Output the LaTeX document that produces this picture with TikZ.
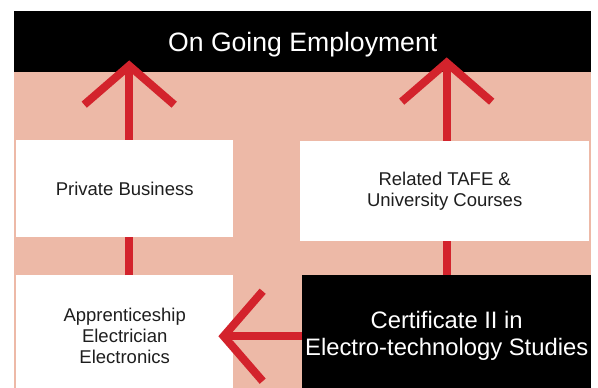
\documentclass[tikz,border=0pt]{standalone}
\usepackage{fontspec}
\setmainfont{Liberation Sans}
\usetikzlibrary{arrows.meta}
\definecolor{salmon}{RGB}{237,185,167}
\definecolor{arrowred}{RGB}{211,35,44}
\definecolor{inkgrey}{RGB}{30,30,30}

\begin{document}
\begin{tikzpicture}[x=1pt,y=-1pt,
  boxwhite/.style={fill=white,text=inkgrey,inner sep=0pt,anchor=north west,align=center,font=\fontsize{18.5}{21}\selectfont},
  boxblack/.style={fill=black,text=white,inner sep=0pt,anchor=north west,align=center},
  redarrow/.style={draw=arrowred,line width=8pt,-{Straight Barb[length=39pt,width=90pt,sharp]}}]
\clip (0,0) rectangle (598,388);
\fill [salmon] (14,72) rectangle (591,388);

\node [boxblack,minimum width=577pt,minimum height=61pt,text height=19pt,text depth=0pt,font=\fontsize{26.6}{32}\selectfont] (employ) at (14,11) {On Going Employment};
\node [boxwhite,minimum width=217pt,minimum height=122pt] (appr) at (16,275) {Apprenticeship\\Electrician\\Electronics};
\node [boxblack,minimum width=289pt,minimum height=122pt,font=\fontsize{23.8}{27}\selectfont] (cert) at (302,275) {Certificate II in\\Electro-technology Studies};

% the two ways up, behind the middle boxes
\coordinate (apprtop) at ([xshift=4.5pt]appr.north);
\draw [redarrow,shorten >=-12pt] (apprtop) -- (apprtop |- employ.south);
\draw [redarrow,shorten >=-15pt] (cert.north) -- (cert.north |- employ.south);

\node [boxwhite,minimum width=217pt,minimum height=97pt] (private) at (16,140) {Private Business};
\node [boxwhite,minimum width=289pt,minimum height=100pt] (tafe) at (300,141) {Related TAFE \&\\University Courses};

\draw [redarrow,shorten >=-15pt] (cert.west) -- (appr.east);

\end{tikzpicture}
\end{document}
